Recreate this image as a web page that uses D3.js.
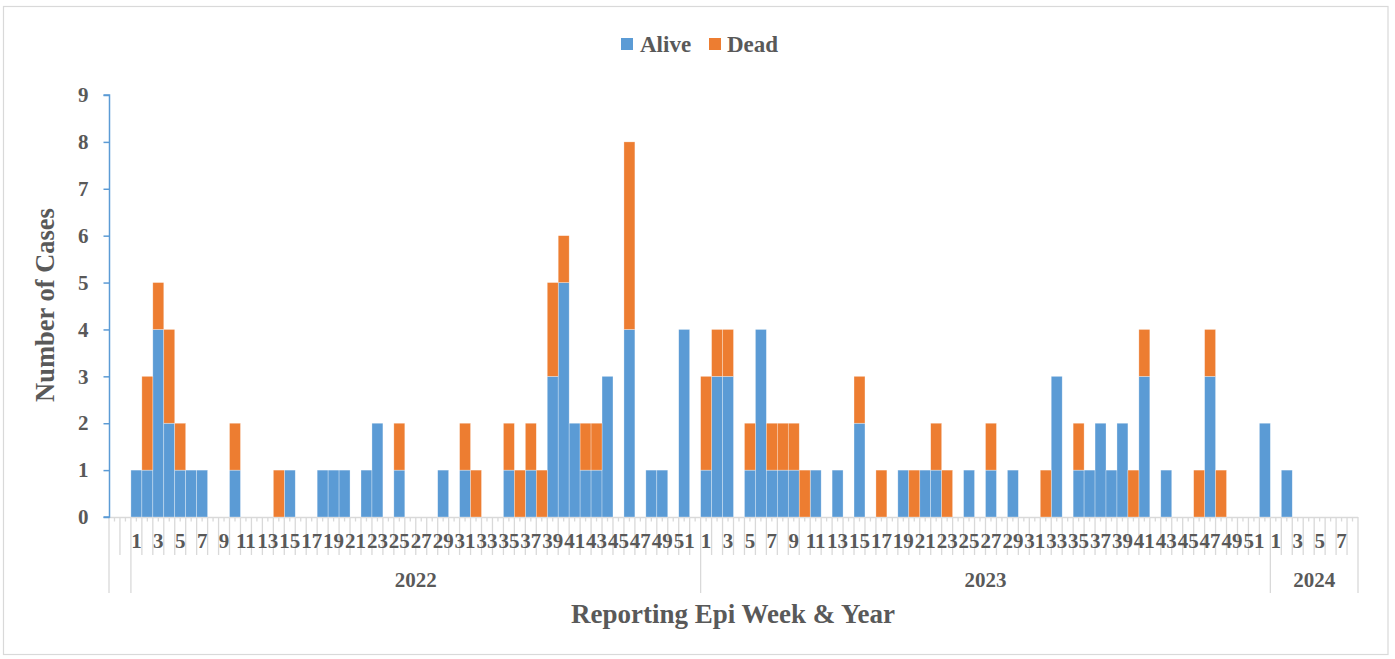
<!DOCTYPE html>
<html><head><meta charset="utf-8">
<script src="https://cdn.jsdelivr.net/npm/d3@7"></script>
<style>
html,body{margin:0;padding:0;background:#fff;}
svg{display:block;}
text{font-family:"Liberation Serif","Times New Roman",serif;font-weight:bold;fill:#595959;}
</style></head>
<body>
<svg id="chart" width="1395" height="659"></svg>
<script>
// ---- data ----
const years = ["", "2022", "2023", "2024"];
const weeksPerYear = [2, 52, 52, 8];
const alive2022 = [1,1,4,2,1,1,1,0,0,1, 0,0,0,0,1,0,0,1,1,1, 0,1,2,0,1,0,0,0,1,0, 1,0,0,0,1,0,1,0,3,5, 2,1,1,3,0,4,0,1,1,0, 4,0];
const dead2022  = [0,2,1,2,1,0,0,0,0,1, 0,0,0,1,0,0,0,0,0,0, 0,0,0,0,1,0,0,0,0,0, 1,1,0,0,1,1,1,1,2,1, 0,1,1,0,0,4,0,0,0,0, 0,0];
const alive2023 = [1,3,3,0,1,4,1,1,1,0, 1,0,1,0,2,0,0,0,1,0, 1,1,0,0,1,0,1,0,1,0, 0,0,3,0,1,1,2,1,2,0, 3,0,1,0,0,0,3,0,0,0, 0,2];
const dead2023  = [2,1,1,0,1,0,1,1,1,1, 0,0,0,0,1,0,1,0,0,1, 0,1,1,0,0,0,1,0,0,0, 0,1,0,0,1,0,0,0,0,1, 1,0,0,0,0,1,1,1,0,0, 0,0];
const alive2024 = [0,1,0,0,0,0,0,0];
const dead2024  = [0,0,0,0,0,0,0,0];
const blankAlive = [0,0], blankDead = [0,0];
const yTicks = [0,1,2,3,4,5,6,7,8,9];
const seriesNames = ["Alive","Dead"];
const colors = {Alive:"#5B9BD5", Dead:"#ED7D31"};

const aliveByYear = [blankAlive, alive2022, alive2023, alive2024];
const deadByYear = [blankDead, dead2022, dead2023, dead2024];

// build rows
const rows = [];
years.forEach((yr, gi) => {
  for (let w = 0; w < weeksPerYear[gi]; w++) {
    rows.push({id: gi + "-" + (w+1), group: gi, year: yr, week: yr === "" ? "" : String(w+1),
      Alive: aliveByYear[gi][w], Dead: deadByYear[gi][w]});
  }
});

const svg = d3.select("#chart");
const pLeft = 109, pRight = 1358, pTop = 95, pBottom = 517;

const x = d3.scaleBand().domain(rows.map(r => r.id)).range([pLeft, pRight]).padding(0);
const y = d3.scaleLinear().domain([0, 9]).range([pBottom, pTop]);
const bw = x.bandwidth();

// outer border
svg.append("rect").attr("x", 3.5).attr("y", 6.5).attr("width", 1384.5).attr("height", 648)
  .attr("fill", "#fff").attr("stroke", "#D9D9D9").attr("stroke-width", 1.2);

// x axis ticks / separators
const gx = svg.append("g").attr("stroke", "#D9D9D9").attr("stroke-width", 1.3);
rows.forEach((r, i) => {
  const x0 = x(r.id);
  const first = i === 0 || rows[i-1].group !== r.group;
  gx.append("line").attr("x1", x0).attr("x2", x0).attr("y1", pBottom).attr("y2", first ? 593 : 555);
  gx.append("line").attr("x1", x0 + bw/2).attr("x2", x0 + bw/2).attr("y1", pBottom).attr("y2", pBottom + 4.5);
});
gx.append("line").attr("x1", pRight).attr("x2", pRight).attr("y1", pBottom).attr("y2", 593);
gx.append("line").attr("x1", pLeft).attr("x2", pRight).attr("y1", pBottom + 0.5).attr("y2", pBottom + 0.5);

// bars
const stack = d3.stack().keys(seriesNames);
const stacked = stack(rows);
svg.append("g").selectAll("g").data(stacked).join("g")
  .attr("fill", d => colors[d.key])
  .selectAll("rect").data(d => d.filter(p => p[1] - p[0] > 0)).join("rect")
  .attr("x", d => x(d.data.id))
  .attr("width", bw)
  .attr("y", d => y(d[1]))
  .attr("height", d => y(d[0]) - y(d[1]))
  .attr("stroke", "#fff").attr("stroke-width", 0.6).attr("stroke-opacity", 0.5);

// week labels
svg.append("g").selectAll("text").data(rows.filter(r => r.week !== "" && (+r.week) % 2 === 1)).join("text")
  .attr("x", r => x(r.id) + bw/2).attr("y", 548)
  .attr("text-anchor", "middle").attr("font-size", 21).text(r => r.week);

// year labels
years.forEach((yr, gi) => {
  if (!yr) return;
  const ids = rows.filter(r => r.group === gi).map(r => r.id);
  const cx = (x(ids[0]) + x(ids[ids.length-1]) + bw) / 2;
  svg.append("text").attr("x", cx).attr("y", 587).attr("text-anchor", "middle")
    .attr("font-size", 21).text(yr);
});

// y axis
const gy = svg.append("g").attr("transform", `translate(${pLeft + 0.5},0)`)
  .call(d3.axisLeft(y).tickValues(yTicks).tickSize(6).tickPadding(15).tickFormat(d3.format("d")));
gy.select(".domain").attr("stroke", "#5B9BD5").attr("stroke-width", 1.5).attr("d", `M-6,${pTop}H0V${pBottom}H-6`);
gy.selectAll(".tick line").attr("stroke", "#5B9BD5").attr("stroke-width", 1.5);
gy.selectAll(".tick text").attr("font-size", 21).attr("fill", "#595959")
  .attr("font-family", "Liberation Serif").attr("font-weight", "bold");

// axis titles
svg.append("text").attr("transform", `translate(54,305) rotate(-90)`)
  .attr("text-anchor", "middle").attr("font-size", 26.5).text("Number of Cases");
svg.append("text").attr("x", 733).attr("y", 623).attr("text-anchor", "middle")
  .attr("font-size", 27).text("Reporting Epi Week & Year");

// legend
const legend = svg.append("g");
const legendPos = [{name:"Alive", sx:621, tx:640}, {name:"Dead", sx:709, tx:727}];
legendPos.forEach(l => {
  legend.append("rect").attr("x", l.sx).attr("y", 38).attr("width", 12).attr("height", 12).attr("fill", colors[l.name]);
  legend.append("text").attr("x", l.tx).attr("y", 52).attr("font-size", 23).text(l.name);
});
</script>
</body></html>
